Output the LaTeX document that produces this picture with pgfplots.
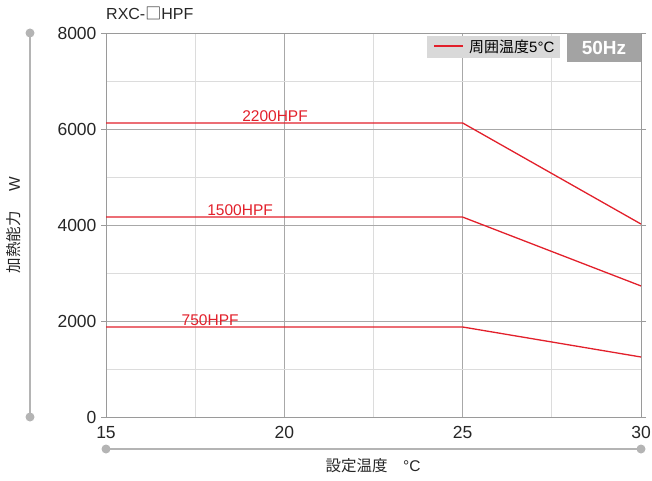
\documentclass[border=0pt]{standalone}
\usepackage{pgfplots}
\pgfplotsset{compat=1.18}
\usepackage{fontspec}
\setmainfont{Liberation Sans}
\newfontfamily\jp{Noto Sans CJK JP}
\definecolor{hpfred}{HTML}{E2202B}
\definecolor{axgray}{HTML}{9A9A9A}
\definecolor{gridmaj}{HTML}{A8A8A8}
\definecolor{gridmin}{HTML}{DCDCDC}
\definecolor{deco}{HTML}{B4B4B4}
\definecolor{legbg}{HTML}{D9D9D9}
\definecolor{hzbg}{HTML}{A3A3A3}

\begin{document}
\begin{tikzpicture}[x=1pt,y=1pt]
\useasboundingbox (0,0) rectangle (652,480);
\begin{axis}[
  at={(106pt,63pt)}, anchor=south west,
  scale only axis, width=535pt, height=384pt,
  xmin=15, xmax=30, ymin=0, ymax=8000,
  xtick={15,20,25,30}, minor xtick={17.5,22.5,27.5},
  ytick={0,2000,4000,6000,8000}, minor ytick={1000,3000,5000,7000},
  grid=both,
  major grid style={gridmaj, line width=0.8pt},
  minor grid style={gridmin, line width=0.8pt},
  axis line style={axgray, line width=1pt},
  x tick style={draw=none},
  minor tick style={draw=none},
  y tick style={axgray, line width=0.8pt},
  tick align=outside, major tick length=5pt,
  ticklabel style={font=\fontsize{17.5}{17.5}\selectfont, text=black!85},
  /pgf/number format/assume math mode=true,
  /pgf/number format/1000 sep={},
  yticklabel style={xshift=-1pt},
  xticklabel style={yshift=-1pt},
]
\addplot[hpfred, line width=1.3pt] coordinates {(15,6125) (25,6125) (30,4020)};
\addplot[hpfred, line width=1.3pt] coordinates {(15,4165) (25,4165) (30,2730)};
\addplot[hpfred, line width=1.3pt] coordinates {(15,1875) (25,1875) (30,1250)};
\node[text=hpfred, anchor=south, inner sep=1pt, font=\fontsize{15.5}{15.5}\selectfont] at (axis cs:19.74,6125) {2200HPF};
\node[text=hpfred, anchor=south, inner sep=1pt, font=\fontsize{15.5}{15.5}\selectfont] at (axis cs:18.76,4165) {1500HPF};
\node[text=hpfred, anchor=south, inner sep=1pt, font=\fontsize{15.5}{15.5}\selectfont] at (axis cs:17.92,1875) {750HPF};
\end{axis}
% title
\node[anchor=base west, inner sep=0pt, font=\fontsize{16}{16}\selectfont, text=black!85] at (106,460) {RXC-{\jp □}HPF};
% legend
\fill[legbg] (427,422) rectangle (560,444);
\draw[hpfred, line width=1.3pt] (434,434) -- (463,434);
\node[anchor=west, inner sep=0pt, font=\fontsize{15}{15}\selectfont] at (469,433) {{\jp 周囲温度}5°C};
\fill[hzbg] (567,418) rectangle (641,447);
\node[text=white, font=\bfseries\fontsize{19}{19}\selectfont] at (604,432) {50Hz};
% y label decoration
\draw[deco, line width=1.5pt] (30,447) -- (30,63);
\fill[deco] (30,447) circle (4.5);
\fill[deco] (30,63) circle (4.5);
\node[rotate=90, font=\fontsize{15.5}{15.5}\selectfont, text=black!85] at (14,255) {{\jp 加熱能力}\quad\ W};
% x label decoration
\draw[deco, line width=1.5pt] (106,31) -- (641,31);
\fill[deco] (106,31) circle (4.5);
\fill[deco] (641,31) circle (4.5);
\node[font=\fontsize{15.5}{15.5}\selectfont, text=black!85] at (373,14) {{\jp 設定温度}\quad °C};
\end{tikzpicture}
\end{document}
